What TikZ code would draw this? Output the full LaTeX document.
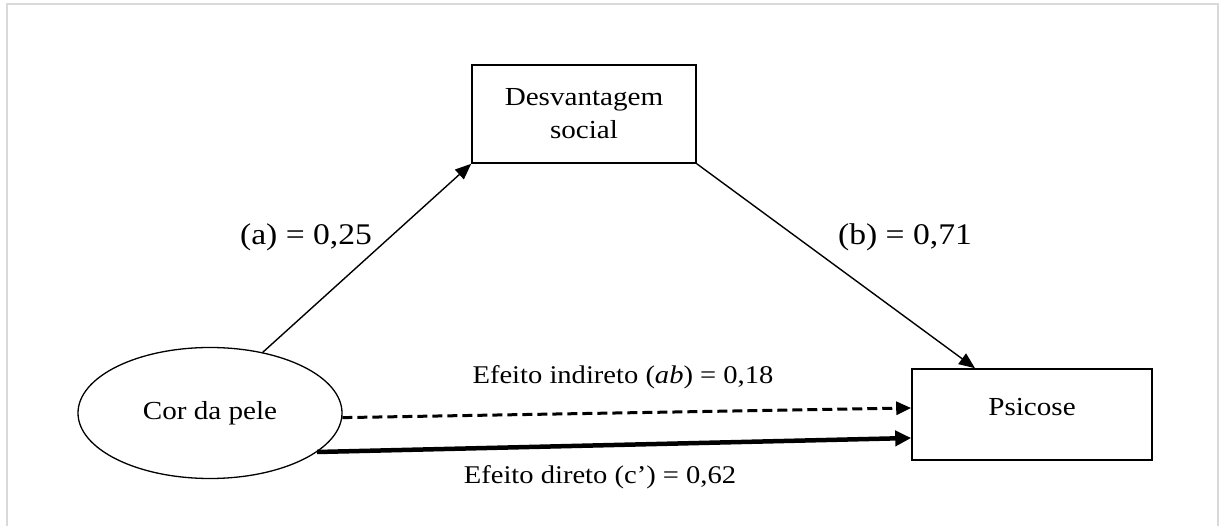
\documentclass[tikz,border=0pt]{standalone}
\usepackage{fontspec}
\setmainfont{Liberation Serif}[FakeStretch=1.12]
\usetikzlibrary{arrows.meta,shapes.geometric}
\begin{document}
\begin{tikzpicture}[x=1pt,y=-1pt,
  box/.style={draw, line width=1.6pt, rectangle, inner sep=0pt},
  oval/.style={draw, line width=1.3pt, ellipse, inner sep=0pt, minimum width=264pt, minimum height=131pt},
  txt/.style={font=\fontsize{26}{33}\selectfont},
  coef/.style={font=\fontsize{30}{36}\selectfont, inner sep=0pt, anchor=base},
  eff/.style={font=\fontsize{25.5}{30}\selectfont, inner sep=0pt, anchor=base},
  link/.style={line width=1.4pt, -{Triangle[length=16pt,width=13pt]}},
  dashlink/.style={line width=3pt, dash pattern=on 10pt off 5pt, -{Triangle[length=15pt,width=13pt]}},
  thicklink/.style={line width=4.5pt, -{Triangle[length=16pt,width=15pt]}},
  frame/.style={line width=2pt, draw=black!15}
]
\useasboundingbox (0,0) rectangle (1219,526);
\draw[frame] (7,526) -- (7,4) -- (1218,4) -- (1218,526);

\node[box, txt, align=center, minimum width=224pt, minimum height=98pt] (des) at (584,114) {Desvantagem\\social};
\node[oval, txt] (cor) at (210,413) {Cor da pele};
\node[box, txt, minimum width=240pt, minimum height=91pt, text height=10pt, text depth=8pt] (psi) at (1032,414.5) {Psicose};

\draw[link] (cor.49) -- (des.south west);
\draw[link] (des.south east) -- ([xshift=-57pt]psi.north);
\draw[dashlink] (cor.-2) -- ([yshift=6.5pt]psi.west);
\draw[thicklink] (cor.-20) -- ([yshift=-23.5pt]psi.west);

\node[coef] (la) at (306,245) {(a) = 0,25};
\node[coef] (lb) at (905,245) {(b) = 0,71};
\node[eff] (lind) at (623,384) {Efeito indireto (\textit{ab}) = 0,18};
\node[eff] (ldir) at (600,484) {Efeito direto (c’) = 0,62};
\end{tikzpicture}
\end{document}
